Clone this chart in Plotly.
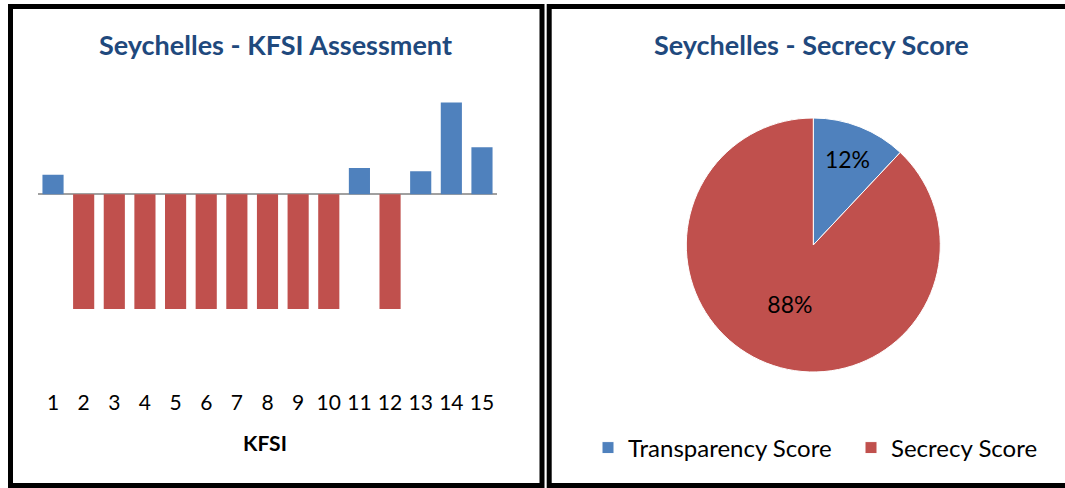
import plotly.graph_objects as go

W, H = 1065, 488

# ---- data ----
kfsi_labels = [str(i) for i in range(1, 16)]
kfsi_values = [0.17, -1, -1, -1, -1, -1, -1, -1, -1, -1, 0.23, -1, 0.20, 0.80, 0.41]
pie_labels = ["Transparency Score", "Secrecy Score"]
pie_values = [12, 88]

BLUE = "#4F81BD"
RED = "#C0504D"
TITLE_BLUE = "#1F497D"
FONT = "Lato"


def px_x(v):
    return v / W


def px_y(v):
    return 1 - v / H


fig = go.Figure()

bar_colors = [BLUE if v >= 0 else RED for v in kfsi_values]
fig.add_trace(go.Bar(
    x=kfsi_labels, y=kfsi_values,
    marker=dict(color=bar_colors, line=dict(width=0)),
    xaxis="x", yaxis="y", showlegend=False, hoverinfo="x+y",
))

fig.add_trace(go.Pie(
    labels=pie_labels, values=pie_values,
    marker=dict(colors=[BLUE, RED], line=dict(color="white", width=1)),
    sort=False, direction="clockwise", rotation=0,
    textinfo="percent", textposition="inside",
    insidetextorientation="horizontal",
    textfont=dict(family=FONT, size=23, color="black"),
    domain=dict(x=[px_x(686.3), px_x(940.3)], y=[px_y(372), px_y(118)]),
    showlegend=True,
))

# y-axis: zero at 194.3px, 114.7 px per unit
zero_px, ppu = 194.3, 114.7
ytop, ybot = 1.0, -1.69
dom_top = zero_px - ytop * ppu
dom_bot = zero_px - ybot * ppu

fig.update_layout(
    width=W, height=H,
    margin=dict(l=0, r=0, t=0, b=0, autoexpand=False),
    paper_bgcolor="white", plot_bgcolor="white",
    font=dict(family=FONT, color="black"),
    bargap=0.31,
    xaxis=dict(
        domain=[px_x(37.7), px_x(497.3)],
        anchor="y", showgrid=False, showline=False, ticks="",
        tickfont=dict(family=FONT, size=21, color="black"),
        type="category", fixedrange=True,
    ),
    yaxis=dict(
        domain=[px_y(dom_bot), px_y(dom_top)],
        range=[ybot, ytop], anchor="x",
        showgrid=False, showticklabels=False, ticks="",
        zeroline=True, zerolinecolor="#A0A0A0", zerolinewidth=2,
        fixedrange=True,
    ),
    legend=dict(
        orientation="h", x=px_x(588), xanchor="left",
        y=px_y(448), yanchor="middle",
        font=dict(family=FONT, size=24, color="black"),
        itemclick=False, bgcolor="rgba(0,0,0,0)",
        entrywidth=218, entrywidthmode="pixels",
    ),
)

annotations = [
    dict(text="<b>Seychelles - KFSI Assessment</b>", x=px_x(275), y=px_y(45),
         font=dict(family=FONT, size=27, color=TITLE_BLUE)),
    dict(text="<b>Seychelles - Secrecy Score</b>", x=px_x(812), y=px_y(45),
         font=dict(family=FONT, size=27, color=TITLE_BLUE)),
    dict(text="<b>KFSI</b>", x=px_x(265), y=px_y(442),
         font=dict(family=FONT, size=21, color="black")),
]
for a in annotations:
    a.update(xref="paper", yref="paper", showarrow=False,
             xanchor="center", yanchor="middle")
fig.update_layout(annotations=annotations)

# panel borders
lw = 5
shapes = [
    dict(type="rect", x0=px_x(10.5), x1=px_x(542), y0=px_y(485.5), y1=px_y(6.5)),
    dict(type="rect", x0=px_x(549.2), x1=px_x(1075), y0=px_y(485.5), y1=px_y(6.5)),
]
for s in shapes:
    s.update(xref="paper", yref="paper", line=dict(color="black", width=lw),
             fillcolor="rgba(0,0,0,0)", layer="above")
fig.update_layout(shapes=shapes)

fig.write_html("out.html", config={"displayModeBar": False},
               post_script="document.body.style.margin='0';")
